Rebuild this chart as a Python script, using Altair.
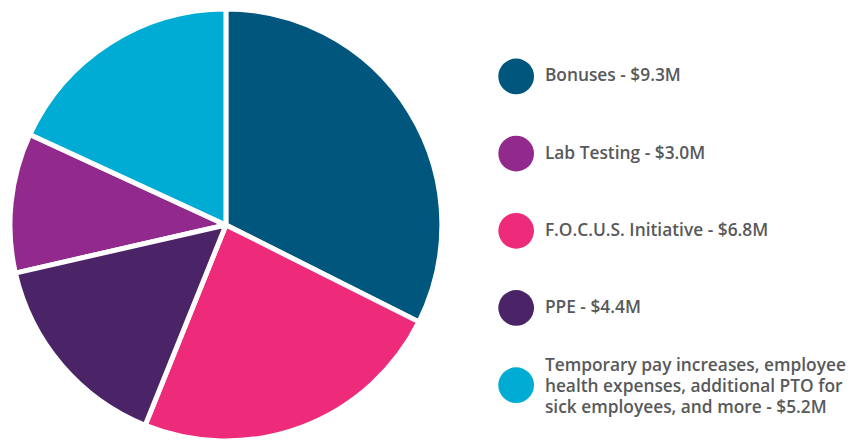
import altair as alt
import pandas as pd

categories = ["Bonuses", "Lab Testing", "F.O.C.U.S. Initiative", "PPE",
              "Temporary pay increases, employee health expenses, additional PTO for sick employees, and more"]
values = [9.3, 3.0, 6.8, 4.4, 5.2]
colors = ["#00567d", "#922a8d", "#ee2a7b", "#4b2467", "#00acd4"]
pie_order = [0, 3, 1, 2, 4]
legend_labels = [
    "Bonuses - $9.3M",
    "Lab Testing - $3.0M",
    "F.O.C.U.S. Initiative - $6.8M",
    "PPE - $4.4M",
    "Temporary pay increases, employee\nhealth expenses, additional PTO for\nsick employees, and more - $5.2M",
]

df = pd.DataFrame({
    "cat": categories,
    "value": values,
    "pie_order": pie_order,
    "label": legend_labels,
    "lines": [s.count("\n") + 1 for s in legend_labels],
})

color_scale = alt.Scale(domain=categories, range=colors)
color_enc = alt.Color("cat:N", scale=color_scale, legend=None)

pie = alt.Chart(df).mark_arc(
    outerRadius=218, stroke="white", strokeWidth=5, strokeJoin="round"
).encode(
    theta=alt.Theta("value:Q", stack=True),
    color=color_enc,
    order=alt.Order("pie_order:Q"),
    x=alt.value(220),
    y=alt.value(217),
)

ybase = alt.Y("cat:N", sort=categories, axis=None, scale=alt.Scale(range=[67, 378.7], padding=0))

dots = alt.Chart(df).mark_circle(size=1300, opacity=1).encode(
    x=alt.value(513),
    y=ybase,
    color=color_enc,
)

text_style = dict(align="left", baseline="middle", font="Open Sans", fontSize=17.5,
                  fontWeight=600, color="#58595b", lineBreak="\n", lineHeight=21)

texts_single = alt.Chart(df).transform_filter("datum.lines == 1").mark_text(**text_style).encode(
    x=alt.value(542),
    y=ybase,
    text="label:N",
)

texts_multi = alt.Chart(df).transform_filter("datum.lines > 1").mark_text(dy=-19, **text_style).encode(
    x=alt.value(542),
    y=ybase,
    text="label:N",
)

chart = alt.layer(pie, dots, texts_single, texts_multi).properties(
    width=847, height=433, padding=0, autosize=alt.AutoSizeParams(type="none")
).configure_view(stroke=None)

chart.save("out.html", embed_options={"renderer": "svg", "actions": False})
